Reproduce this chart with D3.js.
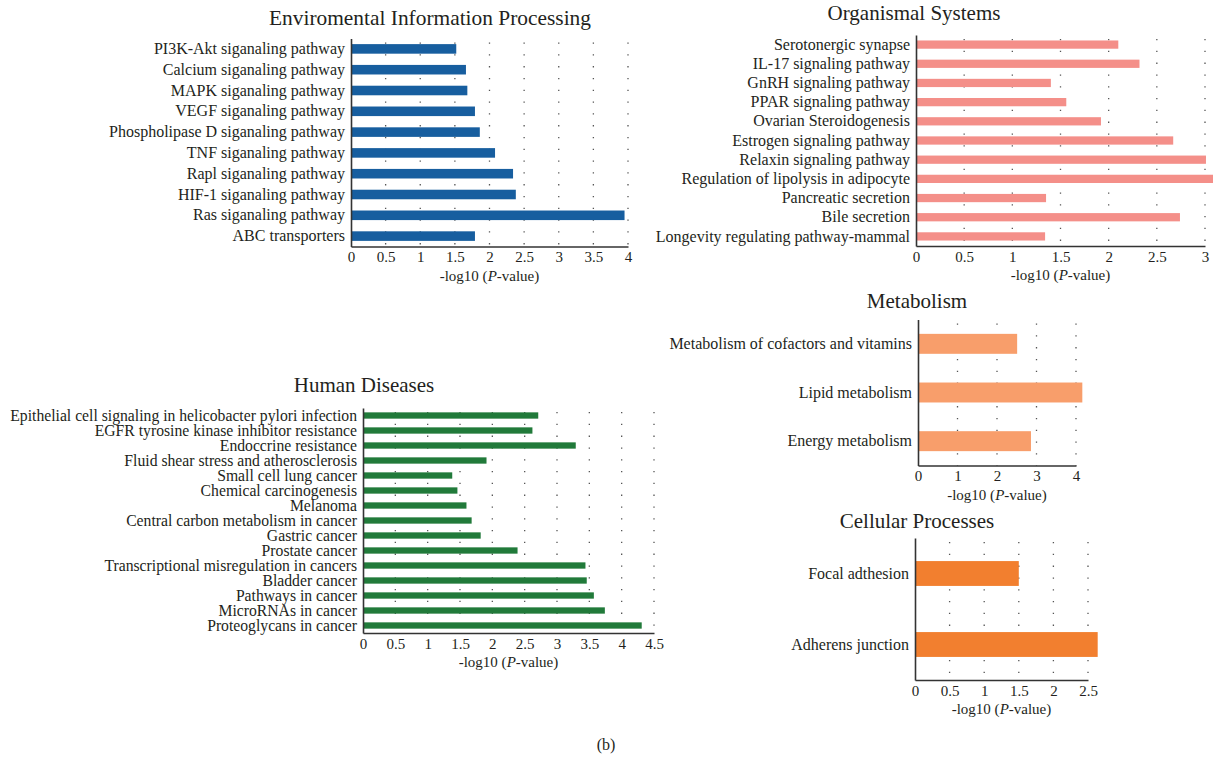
<!DOCTYPE html>
<html>
<head>
<meta charset="utf-8">
<script src="https://cdn.jsdelivr.net/npm/d3@7"></script>
<style>
  html, body { margin: 0; padding: 0; background: #fff; }
  svg { display: block; }
  text { font-family: "Liberation Serif", "Times New Roman", serif; fill: #231f20; }
</style>
</head>
<body>
<svg id="chart" width="1213" height="757"></svg>
<script>
// ---------------- DATA ----------------
const envCategories = ["PI3K-Akt siganaling pathway", "Calcium siganaling pathway", "MAPK siganaling pathway",
  "VEGF siganaling pathway", "Phospholipase D siganaling pathway", "TNF siganaling pathway",
  "Rapl siganaling pathway", "HIF-1 siganaling pathway", "Ras siganaling pathway", "ABC transporters"];
const envValues = [1.52, 1.66, 1.68, 1.79, 1.86, 2.08, 2.34, 2.38, 3.95, 1.79];
const envTicks = [0, 0.5, 1, 1.5, 2, 2.5, 3, 3.5, 4];

const orgCategories = ["Serotonergic synapse", "IL-17 signaling pathway", "GnRH signaling pathway",
  "PPAR signaling pathway", "Ovarian Steroidogenesis", "Estrogen signaling pathway",
  "Relaxin signaling pathway", "Regulation of lipolysis in adipocyte", "Pancreatic secretion",
  "Bile secretion", "Longevity regulating pathway-mammal"];
const orgValues = [2.10, 2.32, 1.40, 1.56, 1.92, 2.67, 3.01, 3.12, 1.35, 2.74, 1.34];
const orgTicks = [0, 0.5, 1, 1.5, 2, 2.5, 3];

const humCategories = ["Epithelial cell signaling in helicobacter pylori infection",
  "EGFR tyrosine kinase inhibitor resistance", "Endoccrine resistance",
  "Fluid shear stress and atherosclerosis", "Small cell lung cancer", "Chemical carcinogenesis",
  "Melanoma", "Central carbon metabolism in cancer", "Gastric cancer", "Prostate cancer",
  "Transcriptional misregulation in cancers", "Bladder cancer", "Pathways in cancer",
  "MicroRNAs in cancer", "Proteoglycans in cancer"];
const humValues = [2.71, 2.62, 3.29, 1.91, 1.38, 1.46, 1.60, 1.68, 1.82, 2.39, 3.44, 3.46, 3.57, 3.74, 4.31];
const humTicks = [0, 0.5, 1, 1.5, 2, 2.5, 3, 3.5, 4, 4.5];

const metCategories = ["Metabolism of cofactors and vitamins", "Lipid metabolism", "Energy metabolism"];
const metValues = [2.51, 4.16, 2.86];
const metTicks = [0, 1, 2, 3, 4];

const celCategories = ["Focal adthesion", "Adherens junction"];
const celValues = [1.50, 2.64];
const celTicks = [0, 0.5, 1, 1.5, 2, 2.5];

// ---------------- LAYOUT ----------------
const svg = d3.select("#chart");

function panel(cfg, cats, vals, ticks) {
  const g = svg.append("g");
  const x = d3.scaleLinear().domain([0, cfg.max]).range([cfg.x0, cfg.x1]);
  const y = d3.scaleBand().domain(cats).range([cfg.top, cfg.bottom])
    .paddingInner(cfg.pad).paddingOuter(cfg.pad / 2);

  // dotted grid
  g.append("g").selectAll("line").data(ticks.filter(t => t > 0)).join("line")
    .attr("x1", d => x(d)).attr("x2", d => x(d))
    .attr("y1", cfg.top + 4).attr("y2", cfg.bottom)
    .attr("stroke", "#555").attr("stroke-width", 1.3)
    .attr("stroke-dasharray", "1.3,10.5");

  // bars
  g.append("g").selectAll("rect").data(cats).join("rect")
    .attr("x", x(0))
    .attr("y", d => y(d))
    .attr("width", (d, i) => x(vals[i]) - x(0))
    .attr("height", y.bandwidth())
    .attr("fill", cfg.color);

  // x axis
  const xa = g.append("g").attr("transform", `translate(0,${cfg.bottom})`)
    .call(d3.axisBottom(x).tickValues(ticks).tickSize(0).tickSizeOuter(0).tickPadding(5)
      .tickFormat(d3.format("~g")));
  xa.select(".domain").attr("stroke", "#333").attr("stroke-width", 1.6);
  xa.selectAll("text").attr("font-size", 15).attr("font-family", "Liberation Serif").attr("fill", "#231f20");

  // y axis
  const ya = g.append("g").attr("transform", `translate(${cfg.x0},0)`)
    .call(d3.axisLeft(y).tickSize(0).tickSizeOuter(0).tickPadding(6));
  ya.select(".domain").attr("stroke", "#333").attr("stroke-width", 1.6);
  ya.selectAll("text").attr("font-size", cfg.labelSize).attr("font-family", "Liberation Serif").attr("fill", "#231f20");

  // axis title
  const at = g.append("text").attr("x", (cfg.x0 + cfg.x1) / 2).attr("y", cfg.bottom + 34)
    .attr("text-anchor", "middle").attr("font-size", 15);
  at.append("tspan").text("-log10 (");
  at.append("tspan").attr("font-style", "italic").text("P");
  at.append("tspan").text("-value)");

  // title
  g.append("text").attr("x", cfg.titleX).attr("y", cfg.titleY)
    .attr("text-anchor", "middle").attr("font-size", cfg.titleSize || 21).text(cfg.title);
}

panel({ x0: 351, x1: 628, max: 4, top: 38.5, bottom: 246.5, pad: 0.54, color: "#175e9f",
  labelSize: 16, title: "Enviromental Information Processing", titleX: 430, titleY: 25, titleSize: 21.4 },
  envCategories, envValues, envTicks);

panel({ x0: 916, x1: 1205, max: 3, top: 35, bottom: 246, pad: 0.57, color: "#f48f89",
  labelSize: 16, title: "Organismal Systems", titleX: 914, titleY: 20 },
  orgCategories, orgValues, orgTicks);

panel({ x0: 363, x1: 654, max: 4.5, top: 408, bottom: 633, pad: 0.58, color: "#217a3a",
  labelSize: 15.7, title: "Human Diseases", titleX: 364, titleY: 392 },
  humCategories, humValues, humTicks);

panel({ x0: 918, x1: 1076, max: 4, top: 319.5, bottom: 465.5, pad: 0.59, color: "#f89e6b",
  labelSize: 16, title: "Metabolism", titleX: 917, titleY: 308 },
  metCategories, metValues, metTicks);

panel({ x0: 915, x1: 1088, max: 2.5, top: 538, bottom: 680, pad: 0.65, color: "#f27f2f",
  labelSize: 16, title: "Cellular Processes", titleX: 917, titleY: 528 },
  celCategories, celValues, celTicks);

svg.append("text").attr("x", 606).attr("y", 750).attr("text-anchor", "middle")
  .attr("font-size", 16).text("(b)");
</script>
</body>
</html>
